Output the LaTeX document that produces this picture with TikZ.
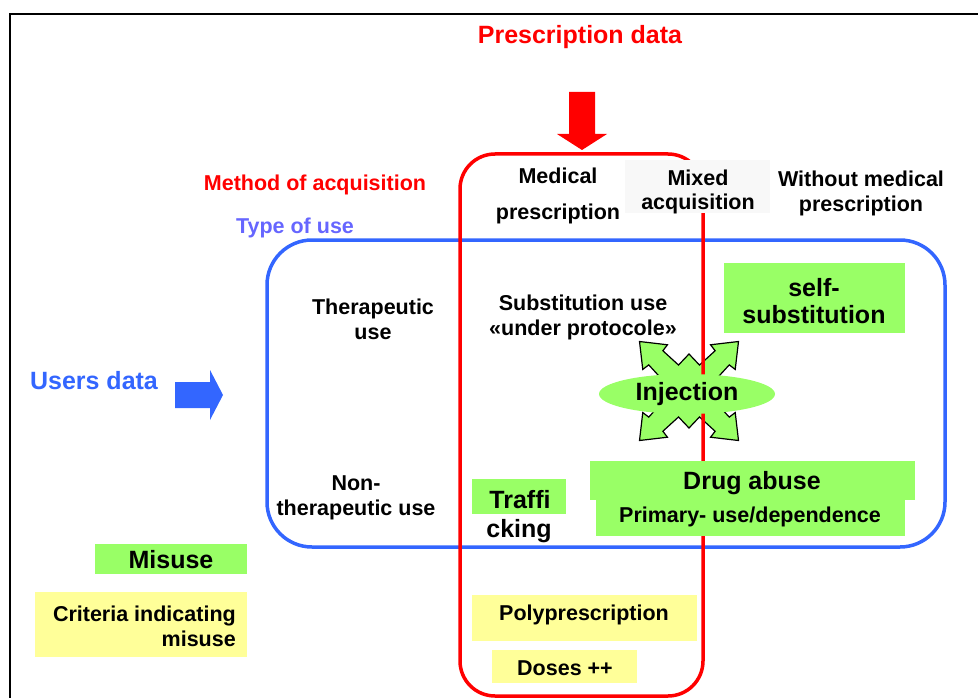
\documentclass[tikz,border=0pt]{standalone}
\usepackage{fontspec}
\setmainfont{Liberation Sans}
\usetikzlibrary{shapes.geometric}
\definecolor{acqred}{HTML}{FF0000}
\definecolor{useblue}{HTML}{3366FF}
\definecolor{typeblue}{HTML}{6666FF}
\definecolor{misgreen}{HTML}{99FF66}
\definecolor{crityellow}{HTML}{FFFF99}
\definecolor{mixgray}{HTML}{F8F8F8}
\begin{document}
\begin{tikzpicture}[x=1pt,y=-1pt,
    txt/.style={font=\fontsize{21.5}{25}\selectfont\bfseries, align=center, inner sep=0pt},
    bigtxt/.style={font=\fontsize{25}{27}\selectfont\bfseries, align=center, inner sep=0pt},
    greenbox/.style={fill=misgreen},
    yellowbox/.style={fill=crityellow},
    frame/.style={line width=3.5pt, rounded corners=#1}]
  \useasboundingbox (0,0) rectangle (978,698);
  \draw[line width=2.5pt] (10,698) -- (10,14) -- (978,14);
  % type of use
  \draw[frame=45pt, useblue] (267,240) rectangle (945,547);
  % injection cross
  \filldraw[fill=misgreen, draw=black, line width=1.2pt, shift={(689,391)}]
    (33:48) \foreach \a in {45,135,225,315} {
      -- (\a-20:51) -- (\a:70) -- (\a+20:51) -- (\a+12:48)
      -- (\a+23:28) -- (\a+45:37) -- (\a+67:28) -- (\a+78:48) } -- cycle;
  % method of acquisition
  \draw[frame=35pt, acqred] (460,154) rectangle (703,696);
  \node[fill=mixgray, minimum width=145pt, minimum height=53pt] (mixbox) at (697.5,186.5) {};
  \node[txt, font=\fontsize{21.5}{24}\selectfont\bfseries] (mixed) at (698,192) {Mixed\\acquisition};
  \node[ellipse, fill=misgreen, minimum width=176pt, minimum height=40pt, inner sep=0pt] (inj) at (687,394) {};
  \node[bigtxt] at (inj) {Injection};
  % headings
  \node[bigtxt, acqred] (presc) at (580,37) {Prescription data};
  \fill[acqred] (569,92) -- (595,92) -- (595,134) -- (607,134) -- (582,150) -- (557,134) -- (569,134) -- cycle;
  \node[txt, acqred] (method) at (315,185) {Method of acquisition};
  \node[txt, typeblue] (type) at (295,228) {Type of use};
  \node[bigtxt, useblue] (users) at (94,381) {Users data};
  \fill[useblue] (175,382) -- (210,382) -- (210,370) -- (223,395) -- (210,420) -- (210,408) -- (175,408) -- cycle;
  % columns
  \node[txt] (medical) at (558,196) {Medical\\[11pt]prescription};
  \node[txt] (without) at (861,193) {Without medical\\prescription};
  % rows
  \node[txt] (thera) at (373,319) {Therapeutic\\use};
  \node[txt] (nonthera) at (356,498) {Non-\\therapeutic use};
  \node[txt] (subst) at (583,317) {Substitution use\\«under protocole»};
  \fill[greenbox] (724,263) rectangle (905,333);
  \node[bigtxt] (self) at (814,301) {self-\\substitution};
  \fill[greenbox] (590,461) rectangle (915,500);
  \fill[greenbox] (596,500) rectangle (905,536);
  \node[bigtxt] (abuse) at (752,483) {Drug abuse};
  \node[txt] (primary) at (750,517) {Primary- use/dependence};
  \fill[greenbox] (472,479) rectangle (566,514);
  \node[bigtxt] (traffi) at (520,500) {Traffi};
  \node[bigtxt] (cking) at (519,531) {cking};
  % criteria
  \fill[greenbox] (95,544) rectangle (247,574);
  \node[bigtxt] (misuse) at (171,560) {Misuse};
  \fill[yellowbox] (35,592) rectangle (247,657);
  \node[txt, align=right, anchor=east] (criteria) at (236,626) {Criteria indicating\\misuse};
  \fill[yellowbox] (472,595) rectangle (697,641);
  \node[txt] (poly) at (584,615) {Polyprescription};
  \fill[yellowbox] (492,650) rectangle (637,683);
  \node[txt] (doses) at (565,668) {Doses ++};
\end{tikzpicture}
\end{document}
